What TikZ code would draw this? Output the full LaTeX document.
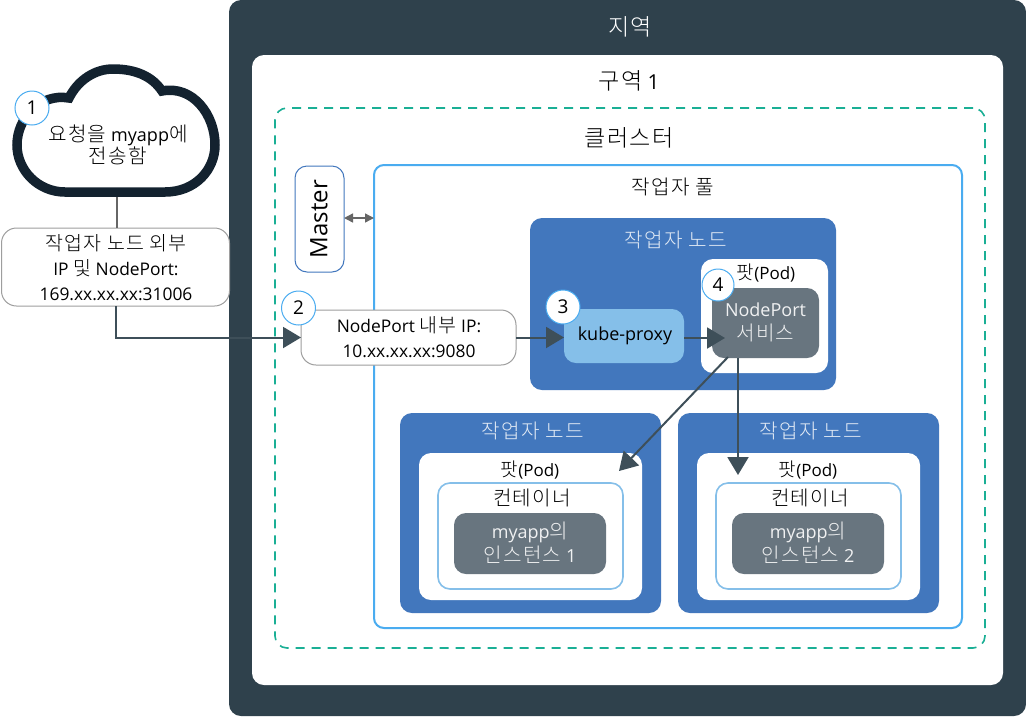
\documentclass[tikz,border=0pt]{standalone}
\usepackage{fontspec}
\setmainfont{Open Sans}
\newfontfamily\kr{Noto Sans CJK KR}[UprightFont={* Light},LetterSpace=6,Scale=1.12]
\newcommand{\K}[1]{{\kr #1}}
\usetikzlibrary{arrows.meta}
\definecolor{region}{HTML}{2F414C}
\definecolor{teal}{HTML}{1AAF95}
\definecolor{poolblue}{HTML}{4AACF0}
\definecolor{nodeblue}{HTML}{4277BD}
\definecolor{lightblue}{HTML}{85BFE9}
\definecolor{svcgray}{HTML}{68757F}
\definecolor{arrowc}{HTML}{3E4F59}
\definecolor{cloudc}{HTML}{13222F}
\tikzset{
  every node/.style={inner sep=0pt,outer sep=0pt,align=center},
  panel/.style={rounded corners=#1,draw=none,fill=white},
  panel/.default=12pt,
  txt/.style={font=\fontsize{18}{26}\selectfont,text=black},
  txtb/.style={font=\fontsize{17.4}{25}\selectfont,text=black},
  title/.style={font=\fontsize{20.6}{26}\selectfont,text=black},
  nodetitle/.style={font=\fontsize{18}{26}\selectfont,text=white!85!nodeblue},
  podtitle/.style={font=\fontsize{17}{22}\selectfont,text=black},
  graybox/.style={rounded corners=15pt,draw=black!38,line width=1pt,fill=white},
  numc/.style={circle,draw=poolblue,fill=white,line width=1pt,minimum size=34pt,font=\fontsize{19}{22}\selectfont},
  bigarrow/.style={draw=arrowc,line width=2pt,-{Triangle[length=18pt,width=21pt,fill=arrowc]}},
}
\begin{document}
\begin{tikzpicture}[x=1pt,y=-1pt]
\useasboundingbox (0,0) rectangle (1026,716);
% nested panels
\node[panel,fill=region,minimum width=797pt,minimum height=716pt] (reg) at (627.5,358) {};
\node[panel,minimum width=751pt,minimum height=630pt] (zone) at (627.5,370) {};
\node[rounded corners=12pt,draw=teal,line width=1.6pt,dash pattern=on 9pt off 7pt,minimum width=710pt,minimum height=540pt] (cluster) at (630,378) {};
\node[rounded corners=10pt,draw=poolblue,line width=2pt,fill=white,minimum width=588pt,minimum height=463pt] (pool) at (668,396.5) {};
\node[rounded corners=12pt,draw=nodeblue,line width=1pt,fill=white,minimum width=49pt,minimum height=106pt] (master) at (319.5,219) {};
\node[rotate=90,font=\fontsize{24}{26}\selectfont] (mastertxt) at (319,219) {Master};
% titles
\node[title,text=white] (tregion) at (630,27) {\K{지역}};
\node[title] (tzone) at (629,81) {\K{구역} 1};
\node[title] (tcluster) at (629,138) {\K{클러스터}};
\node[txt] (tpool) at (673,187) {\K{작업자 풀}};
% top worker node
\node[panel=12pt,fill=nodeblue,minimum width=306pt,minimum height=172pt] (wn1) at (683,304) {};
\node[nodetitle] (twn1) at (676,240) {\K{작업자 노드}};
\node[panel=12pt,minimum width=127pt,minimum height=114pt] (pod1) at (764.5,316) {};
\node[podtitle] (tpod1) at (766,273) {\K{팟}(Pod)};
\node[panel=12pt,fill=svcgray,minimum width=107pt,minimum height=70pt] (svc) at (765.5,323) {};
\node[txt,text=white!90!svcgray] (tsvc) at (765.5,322) {NodePort\\[-2pt]\K{서비스}};
\node[panel=12pt,fill=lightblue,minimum width=120pt,minimum height=54pt] (kube) at (624,336) {};
\node[txt] (tkube) at (625,336) {kube-proxy};
% lower left worker node
\node[panel=12pt,fill=nodeblue,minimum width=261pt,minimum height=200pt] (wn2) at (530.5,513) {};
\node[nodetitle] (twn2) at (533,431) {\K{작업자 노드}};
\node[panel=12pt,minimum width=223pt,minimum height=147pt] (pod2) at (530.5,526.5) {};
\node[podtitle] (tpod2) at (530,470) {\K{팟}(Pod)};
\node[rounded corners=12pt,draw=lightblue,line width=1.6pt,fill=white,minimum width=185pt,minimum height=106pt] (cont2) at (530.5,536) {};
\node[txt] (tcont2) at (532,498) {\K{컨테이너}};
\node[panel=12pt,fill=svcgray,minimum width=152pt,minimum height=61pt] (inst2) at (530,543.5) {};
\node[txt,text=white!90!svcgray] (tinst2) at (530,542.5) {myapp\K{의}\\[-2pt]\K{인스턴스} 1};
% lower right worker node
\node[panel=12pt,fill=nodeblue,minimum width=261pt,minimum height=200pt] (wn3) at (808.5,513) {};
\node[nodetitle] (twn3) at (811,431) {\K{작업자 노드}};
\node[panel=12pt,minimum width=223pt,minimum height=147pt] (pod3) at (808.5,526.5) {};
\node[podtitle] (tpod3) at (808,470) {\K{팟}(Pod)};
\node[rounded corners=12pt,draw=lightblue,line width=1.6pt,fill=white,minimum width=185pt,minimum height=106pt] (cont3) at (808.5,536) {};
\node[txt] (tcont3) at (810,498) {\K{컨테이너}};
\node[panel=12pt,fill=svcgray,minimum width=152pt,minimum height=61pt] (inst3) at (808,543.5) {};
\node[txt,text=white!90!svcgray] (tinst3) at (808,542.5) {myapp\K{의}\\[-2pt]\K{인스턴스} 2};
% cloud
\draw[draw=cloudc,line width=9.5pt,fill=white,miter limit=10]
  (65,192) .. controls (38,192) and (17,170) .. (17,145)
  .. controls (17,118) and (40,93) .. (69,98)
  .. controls (78,80) and (95,69) .. (113,69)
  .. controls (135,69) and (152,76) .. (162,91)
  .. controls (193,85) and (215,115) .. (215,145)
  .. controls (215,170) and (195,192) .. (165,192) -- cycle;
\coordinate (cloudb) at (116.5,197);
\node[txt,font=\fontsize{18}{22}\selectfont] (tcloud) at (118,145) {\K{요청을} myapp\K{에}\\\K{전송함}};
% boxes
\node[graybox,minimum width=228pt,minimum height=78pt] (ext) at (115.5,267) {};
\node[txtb,font=\fontsize{17.4}{25}\selectfont] (text) at (116,268) {\K{작업자 노드 외부}\\IP \K{및} NodePort:\\169.xx.xx.xx:31006};
\node[graybox,minimum width=215pt,minimum height=55pt] (nport) at (408.5,337.5) {};
\node[txtb] (tnport) at (409,337) {NodePort \K{내부} IP:\\10.xx.xx.xx:9080};
% connectors
\draw[draw=black!60,line width=2pt] (cloudb) -- (cloudb |- ext.north);
\draw[bigarrow] (ext.south) |- (nport.west);
\draw[bigarrow] (nport.east) -- (nport.east -| kube.west);
\coordinate (svcin) at (725,338);
\draw[bigarrow] (kube.east |- svcin) -- (svcin);
\coordinate (svcdl) at (728,357);
\coordinate (svcdr) at (738,358);
\coordinate (pod2in) at (619,471);
\coordinate (pod3in) at (738,475);
\draw[bigarrow] (svcdl) -- (pod2in);
\draw[bigarrow] (svcdr) -- (pod3in);
\draw[draw=black!60,line width=1.4pt,{Triangle[length=9pt,width=9pt]}-{Triangle[length=9pt,width=9pt]}] (master.east |- 0,218) -- (pool.west |- 0,218);
% numbers
\node[numc] (n1) at (32,108) {1};
\node[numc] (n2) at (298.5,308) {2};
\node[numc] (n3) at (563,307) {3};
\node[numc,minimum size=32pt] (n4) at (718,285) {4};
\end{tikzpicture}
\end{document}
